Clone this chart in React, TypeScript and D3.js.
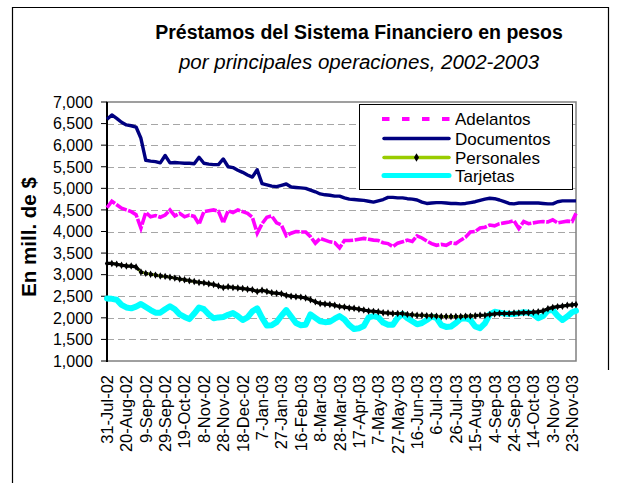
import React, { useEffect, useRef } from 'react';
import * as d3 from 'd3';

// Préstamos del Sistema Financiero en pesos (mill. de $), read every 5 days from 31-Jul-02
const parseDay = d3.timeParse('%d-%b-%y');
const startDate = '31-Jul-02';
const endDate = '27-Nov-03';
const stepDays = 5;

const tickLabels = [
  '31-Jul-02', '20-Aug-02', '9-Sep-02', '29-Sep-02', '19-Oct-02', '8-Nov-02', '28-Nov-02',
  '18-Dec-02', '7-Jan-03', '27-Jan-03', '16-Feb-03', '8-Mar-03', '28-Mar-03', '17-Apr-03',
  '7-May-03', '27-May-03', '16-Jun-03', '6-Jul-03', '26-Jul-03', '15-Aug-03', '4-Sep-03',
  '24-Sep-03', '14-Oct-03', '3-Nov-03', '23-Nov-03',
];

const adelantos = [
  4550, 4700, 4620, 4540, 4500, 4460, 4390, 4080, 4440, 4340,
  4370, 4330, 4380, 4500, 4360, 4420, 4340, 4380, 4350, 4170,
  4460, 4480, 4500, 4470, 4200, 4480, 4440, 4500, 4460, 4420,
  4330, 3960, 4180, 4330, 4360, 4200, 4150, 3900, 3960, 4000,
  3990, 3990, 3880, 3730, 3840, 3800, 3760, 3740, 3620, 3790,
  3790, 3800, 3820, 3840, 3820, 3800, 3790, 3740, 3720, 3650,
  3730, 3760, 3800, 3770, 3900, 3850, 3780, 3720, 3680, 3700,
  3680, 3740, 3720, 3800, 3870, 3990, 4000, 4080, 4100, 4150,
  4130, 4180, 4200, 4220, 4250, 4070, 4230, 4180, 4200, 4220,
  4230, 4220, 4270, 4200, 4220, 4240, 4230, 4420,
];

const documentos = [
  6600, 6700, 6620, 6530, 6470, 6450, 6420, 6160, 5650, 5630,
  5620, 5590, 5760, 5590, 5600, 5590, 5580, 5580, 5570, 5720,
  5580, 5560, 5550, 5550, 5680, 5500, 5480, 5420, 5370, 5310,
  5260, 5430, 5110, 5080, 5050, 5040, 5070, 5100, 5030, 5020,
  5010, 5000, 4960, 4920, 4870, 4850, 4840, 4820, 4820, 4780,
  4750, 4740, 4730, 4720, 4700, 4680, 4710, 4740, 4790, 4790,
  4780, 4780, 4760, 4750, 4730, 4680, 4650, 4660, 4670, 4670,
  4660, 4650, 4650, 4640, 4650, 4670, 4690, 4720, 4750, 4770,
  4760, 4730, 4690, 4650, 4640, 4660, 4660, 4660, 4660, 4660,
  4650, 4640, 4640, 4690, 4710, 4710, 4710, 4710,
];

const personales = [
  3260, 3260, 3240, 3220, 3200, 3200, 3180, 3060, 3030, 3010,
  2990, 2970, 2960, 2940, 2920, 2900, 2880, 2860, 2840, 2820,
  2810, 2790, 2770, 2740, 2700, 2720, 2700, 2690, 2680, 2660,
  2650, 2610, 2640, 2610, 2580, 2570, 2560, 2520, 2500, 2490,
  2480, 2460, 2420, 2370, 2330, 2320, 2310, 2290, 2260, 2250,
  2230, 2220, 2200, 2180, 2160, 2150, 2140, 2120, 2110, 2100,
  2100, 2100, 2080, 2070, 2060, 2060, 2050, 2050, 2040, 2030,
  2030, 2030, 2030, 2030, 2040, 2040, 2050, 2060, 2060, 2080,
  2090, 2100, 2100, 2100, 2110, 2110, 2120, 2120, 2130, 2140,
  2160, 2210, 2240, 2260, 2270, 2290, 2300, 2310,
];

const tarjetas = [
  2450, 2440, 2420, 2300, 2240, 2220, 2260, 2320, 2250, 2180,
  2120, 2120, 2200, 2270, 2200, 2080, 2020, 1970, 2100, 2240,
  2200, 2080, 1990, 2010, 2020, 2070, 2110, 2040, 1950, 2010,
  2150, 2220, 2000, 1820, 1830, 1900, 2050, 2180, 2030, 1880,
  1830, 1840, 2080, 2000, 1920, 1900, 1910, 1980, 2040, 1960,
  1830, 1740, 1760, 1810, 2010, 2040, 2010, 1890, 1840, 1840,
  2000, 2090, 1990, 1920, 1850, 1880, 1950, 2030, 2000, 1830,
  1790, 1800, 1880, 1980, 1990, 1950, 1800, 1760, 1870, 2080,
  2140, 2120, 2100, 2090, 2090, 2110, 2130, 2120, 2080, 1990,
  2040, 2170, 2180, 2050, 1950, 2030, 2130, 2160,
];

const FONT = 'Arial, "Liberation Sans", sans-serif';

const App = () => {
  const svgRef = useRef(null);

  useEffect(() => {
    const svg = d3.select(svgRef.current);
    svg.selectAll('*').remove();

    const start = parseDay(startDate);
    const end = parseDay(endDate);
    const dates = adelantos.map((_, i) =>
      i === adelantos.length - 1 ? end : d3.timeDay.offset(start, i * stepDays),
    );

    const left = 107, right = 576, top = 102, bottom = 361;
    const x = d3.scaleTime().domain([start, end]).range([left, right]);
    const y = d3.scaleLinear().domain([1000, 7000]).range([bottom, top]);

    // outer frame
    svg.append('path')
      .attr('d', 'M12.5,483 V7.5 H608.5 V370')
      .attr('fill', 'none')
      .attr('stroke', '#000')
      .attr('stroke-width', 1.2);

    // titles
    svg.append('text')
      .attr('x', 359).attr('y', 39)
      .attr('text-anchor', 'middle')
      .attr('font-family', FONT).attr('font-size', 19.5).attr('font-weight', 'bold')
      .text('Préstamos del Sistema Financiero en pesos');
    svg.append('text')
      .attr('x', 359).attr('y', 69)
      .attr('text-anchor', 'middle')
      .attr('font-family', FONT).attr('font-size', 20.5).attr('font-style', 'italic')
      .text('por principales operaciones, 2002-2003');

    // gridlines
    const yTicks = d3.range(1000, 7001, 500);
    svg.append('g')
      .selectAll('line')
      .data(yTicks.filter((t) => t > 1000 && t < 7000))
      .enter()
      .append('line')
      .attr('x1', left).attr('x2', right)
      .attr('y1', (d) => Math.round(y(d)) + 0.5)
      .attr('y2', (d) => Math.round(y(d)) + 0.5)
      .attr('stroke', '#a6a6a6')
      .attr('stroke-dasharray', '7,4');

    // plot border
    svg.append('rect')
      .attr('x', left).attr('y', top)
      .attr('width', right - left).attr('height', bottom - top)
      .attr('fill', 'none')
      .attr('stroke', '#808080')
      .attr('stroke-width', 1.5);

    // y axis
    const yAxis = svg.append('g');
    yAxis.append('line')
      .attr('x1', left).attr('x2', left).attr('y1', top).attr('y2', bottom + 1)
      .attr('stroke', '#000').attr('stroke-width', 2);
    yAxis.selectAll('.tick')
      .data(yTicks)
      .enter()
      .append('line')
      .attr('x1', left - 6).attr('x2', left)
      .attr('y1', (d) => y(d)).attr('y2', (d) => y(d))
      .attr('stroke', '#000').attr('stroke-width', 1);
    yAxis.selectAll('text')
      .data(yTicks)
      .enter()
      .append('text')
      .attr('x', left - 14)
      .attr('y', (d) => y(d))
      .attr('dy', '0.36em')
      .attr('text-anchor', 'end')
      .attr('font-family', FONT).attr('font-size', 16)
      .text((d) => d3.format(',')(d));

    svg.append('text')
      .attr('transform', 'translate(29,237) rotate(-90)')
      .attr('text-anchor', 'middle')
      .attr('dy', '0.36em')
      .attr('font-family', FONT).attr('font-size', 20.5).attr('font-weight', 'bold')
      .text('En mill. de $');

    // x labels
    svg.append('g')
      .selectAll('text')
      .data(tickLabels)
      .enter()
      .append('text')
      .attr('transform', (d) => `translate(${x(parseDay(d))},375) rotate(-90)`)
      .attr('dy', '0.36em')
      .attr('text-anchor', 'end')
      .attr('font-family', FONT).attr('font-size', 16.5)
      .text((d) => d);

    const line = (vals) =>
      d3.line().x((_, i) => x(dates[i])).y((d) => y(d))(vals);

    // series
    svg.append('path')
      .attr('d', line(tarjetas))
      .attr('fill', 'none').attr('stroke', '#00ffff')
      .attr('stroke-width', 6).attr('stroke-linejoin', 'round').attr('stroke-linecap', 'round');

    svg.append('path')
      .attr('d', line(personales))
      .attr('fill', 'none').attr('stroke', '#99cc00')
      .attr('stroke-width', 2.5).attr('stroke-linejoin', 'round');
    svg.append('path')
      .attr('d', line(personales))
      .attr('fill', 'none').attr('stroke', '#000')
      .attr('stroke-width', 3.2).attr('stroke-linejoin', 'round')
      .attr('stroke-dasharray', '4,1');
    svg.append('g')
      .selectAll('path')
      .data(personales)
      .enter()
      .append('path')
      .attr('d', d3.symbol().type(d3.symbolDiamond).size(16))
      .attr('transform', (d, i) => `translate(${x(dates[i])},${y(d)})`)
      .attr('fill', '#000');

    svg.append('path')
      .attr('d', line(documentos))
      .attr('fill', 'none').attr('stroke', '#000080')
      .attr('stroke-width', 3.4).attr('stroke-linejoin', 'round');

    svg.append('path')
      .attr('d', line(adelantos))
      .attr('fill', 'none').attr('stroke', '#ff00ff')
      .attr('stroke-width', 3.6).attr('stroke-dasharray', '12,1.5');

    // legend
    const lg = svg.append('g');
    lg.append('rect')
      .attr('x', 359.5).attr('y', 104.5).attr('width', 213).attr('height', 85)
      .attr('fill', '#fff').attr('stroke', '#000').attr('stroke-width', 1);
    const items = [
      { name: 'Adelantos', color: '#ff00ff', width: 4, dash: '7.5,12.5', cap: 'butt', y: 119 },
      { name: 'Documentos', color: '#000080', width: 3.5, dash: null, cap: 'round', y: 138.5 },
      { name: 'Personales', color: '#99cc00', width: 3.5, dash: null, cap: 'round', y: 157.5 },
      { name: 'Tarjetas', color: '#00ffff', width: 5, dash: null, cap: 'round', y: 175.5 },
    ];
    items.forEach((it) => {
      lg.append('line')
        .attr('x1', it.cap === 'round' ? 384 : 382).attr('x2', it.cap === 'round' ? 449 : 452)
        .attr('y1', it.y).attr('y2', it.y)
        .attr('stroke', it.color).attr('stroke-width', it.width)
        .attr('stroke-linecap', it.cap)
        .attr('stroke-dasharray', it.dash);
      lg.append('text')
        .attr('x', 455).attr('y', it.y).attr('dy', '0.36em')
        .attr('font-family', FONT).attr('font-size', 17)
        .text(it.name);
    });
    lg.append('path')
      .attr('d', d3.symbol().type(d3.symbolDiamond).size(22))
      .attr('transform', 'translate(416.5,157.5)')
      .attr('fill', '#000');
  }, []);

  return (
    <svg
      ref={svgRef}
      width={624}
      height={483}
      style={{ position: 'absolute', left: 0, top: 0, background: '#fff' }}
    ></svg>
  );
};

export default App;
